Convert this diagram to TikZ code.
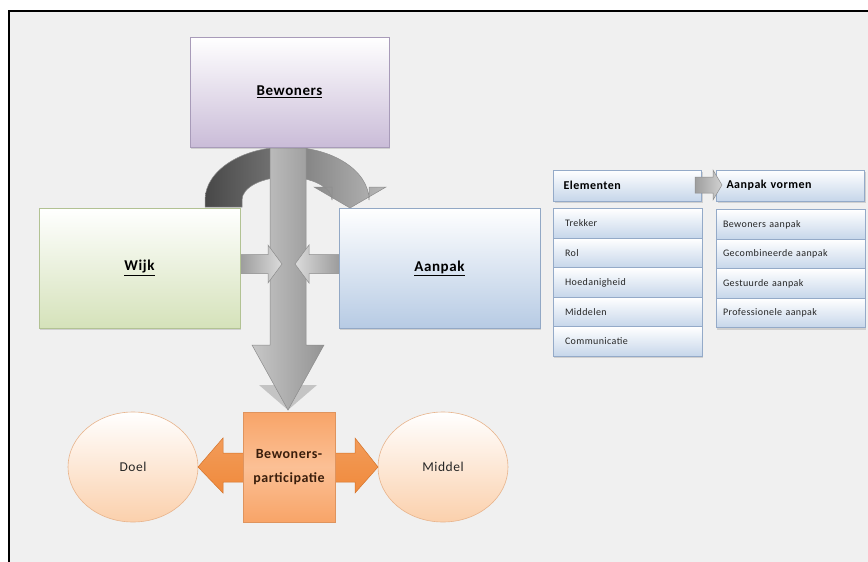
\documentclass[tikz,border=0pt]{standalone}
\usepackage{fontspec}
\setmainfont{Carlito}[LetterSpace=4]
\usetikzlibrary{shadows,shapes.geometric}

\definecolor{bgfill}{HTML}{F0F0F0}
\definecolor{purpleB}{HTML}{CABCD8}
\definecolor{purpleE}{HTML}{A89BB9}
\definecolor{greenB}{HTML}{D5E2BA}
\definecolor{greenE}{HTML}{B2C293}
\definecolor{blueB}{HTML}{B7CBE4}
\definecolor{blueE}{HTML}{92A8C5}
\definecolor{listB}{HTML}{C6D6EA}
\definecolor{listE}{HTML}{94AAC8}
\definecolor{peach}{HTML}{FBD0AC}
\definecolor{peachE}{HTML}{E8B48C}
\definecolor{orangeA}{HTML}{F08A3C}
\definecolor{orangeD}{HTML}{D4732A}
\definecolor{orangeB}{HTML}{F8A468}
\definecolor{orangeL}{HTML}{FBC095}
\definecolor{textbrown}{HTML}{3A1E0C}

\tikzset{
  softshadow/.style={drop shadow={shadow xshift=1pt,shadow yshift=-2pt,opacity=0.28}},
  bigbox/.style={rectangle, line width=0.7pt, softshadow,
    font=\fontsize{15}{18}\selectfont\bfseries},
  headbox/.style={rectangle, draw=listE, line width=0.6pt, top color=white,
    bottom color=listB, minimum height=31pt, text width=128pt, inner xsep=10pt,
    align=left, softshadow, font=\fontsize{12}{14}\selectfont\bfseries},
  itembox/.style={rectangle, draw=listE, line width=0.6pt, top color=white,
    bottom color=listB, minimum height=29.5pt, align=left, softshadow,
    font=\fontsize{10}{12}\selectfont, text=black!85},
  elemitem/.style={itembox, text width=125pt, inner xsep=12pt},
  vormitem/.style={itembox, text width=135pt, inner xsep=7pt},
  roundbox/.style={ellipse, draw=peachE, line width=0.6pt, top color=white,
    bottom color=peach, minimum width=130pt, minimum height=110pt,
    font=\fontsize{13.5}{16}\selectfont, text=black!85},
  greyarrow/.style={draw=black!45, line width=0.5pt},
}

\begin{document}
\begin{tikzpicture}[x=1pt, y=-1pt]
\useasboundingbox (0,0) rectangle (868,562);

% canvas and frame; the frame runs on past the right and lower edges
\fill[white] (0,0) rectangle (868,562);
\fill[bgfill] (9,11) rectangle (890,590);
\draw[line width=2pt] (9,590) -- (9,11) -- (890,11);

% curved arrow from Wijk over to Aanpak
\shade[left color=black!72, middle color=black!50, right color=black!28, draw=black!45, line width=0.5pt]
  (205,207) -- (205,200)
  arc[start angle=180, end angle=360, x radius=82, y radius=53]
  -- (369,187) -- (386,187) -- (350,208) -- (314,187) -- (332,187) -- (332,200)
  arc[start angle=0, end angle=-180, x radius=45, y radius=23]
  -- (242,207) -- cycle;

% downward arrow to participation, with its shadow
\fill[black!30, opacity=0.7] (259,385) -- (317,385) -- (288,410) -- cycle;
\shade[greyarrow, left color=black!22, middle color=black!12, right color=black!42]
  (270,147) -- (306,147) -- (306,345) -- (324,345) -- (288,410) -- (252,345) -- (270,345) -- cycle;

% inward arrows from Wijk and Aanpak
\shade[greyarrow, left color=black!40, right color=black!14]
  (238,254.5) -- (268,254.5) -- (268,245) -- (282,264) -- (268,283) -- (268,273.5) -- (238,273.5) -- cycle;
\shade[greyarrow, left color=black!14, right color=black!40]
  (341,254.5) -- (309,254.5) -- (309,245) -- (295,264) -- (309,283) -- (309,273.5) -- (341,273.5) -- cycle;

% main boxes
\node[bigbox, draw=purpleE, top color=white, bottom color=purpleB,
  minimum width=199pt, minimum height=110pt] (bewoners) at (289.5,92) {\underline{Bewoners}};
\node[bigbox, draw=greenE, top color=white, bottom color=greenB,
  minimum width=201pt, minimum height=120pt] (wijk) at (139.5,268) {\underline{Wijk}};
\node[bigbox, draw=blueE, top color=white, bottom color=blueB,
  minimum width=201pt, minimum height=120pt] (aanpak) at (439.5,268) {\underline{Aanpak}};

% elements and approach forms
\node[headbox] (elementen) at (627.5,185.5) {Elementen};
\node[headbox] (vormen) at (790.5,185.5) {Aanpak vormen};
\shade[greyarrow, left color=black!38, right color=black!18]
  (695,177) -- (713,177) -- (713,170) -- (722,185) -- (713,200) -- (713,193) -- (695,193) -- cycle;

\node[elemitem] (trekker) at (627.5,223.5) {Trekker};
\node[elemitem] (rol) at (627.5,253) {Rol};
\node[elemitem] (hoedanigheid) at (627.5,282.5) {Hoedanigheid};
\node[elemitem] (middelen) at (627.5,312) {Middelen};
\node[elemitem] (communicatie) at (627.5,341.5) {Communicatie};

\node[vormitem] (bewaanpak) at (790.5,224.5) {Bewoners aanpak};
\node[vormitem] (gecombineerd) at (790.5,254) {Gecombineerde aanpak};
\node[vormitem] (gestuurd) at (790.5,283.5) {Gestuurde aanpak};
\node[vormitem] (professioneel) at (790.5,313) {Professionele aanpak};

% participation between goal and means
\node[roundbox] (doel) at (133,467) {Doel};
\node[roundbox] (middel) at (443,467) {Middel};
\shade[draw=orangeD, line width=0.5pt, top color=orangeA!85!white, bottom color=orangeA]
  (198,467) -- (223,438) -- (223,453) -- (355,453) -- (355,438) -- (378,467)
  -- (355,493) -- (355,482) -- (223,482) -- (223,493) -- cycle;
\node[rectangle, draw=orangeB!90!black, line width=0.5pt, top color=orangeB,
  bottom color=orangeB, middle color=orangeL, minimum width=92pt, minimum height=110pt,
  align=center, text=textbrown, font=\fontsize{14}{24}\selectfont\bfseries]
  (participatie) at (289,467) {Bewoners-\\participatie};
\end{tikzpicture}
\end{document}
